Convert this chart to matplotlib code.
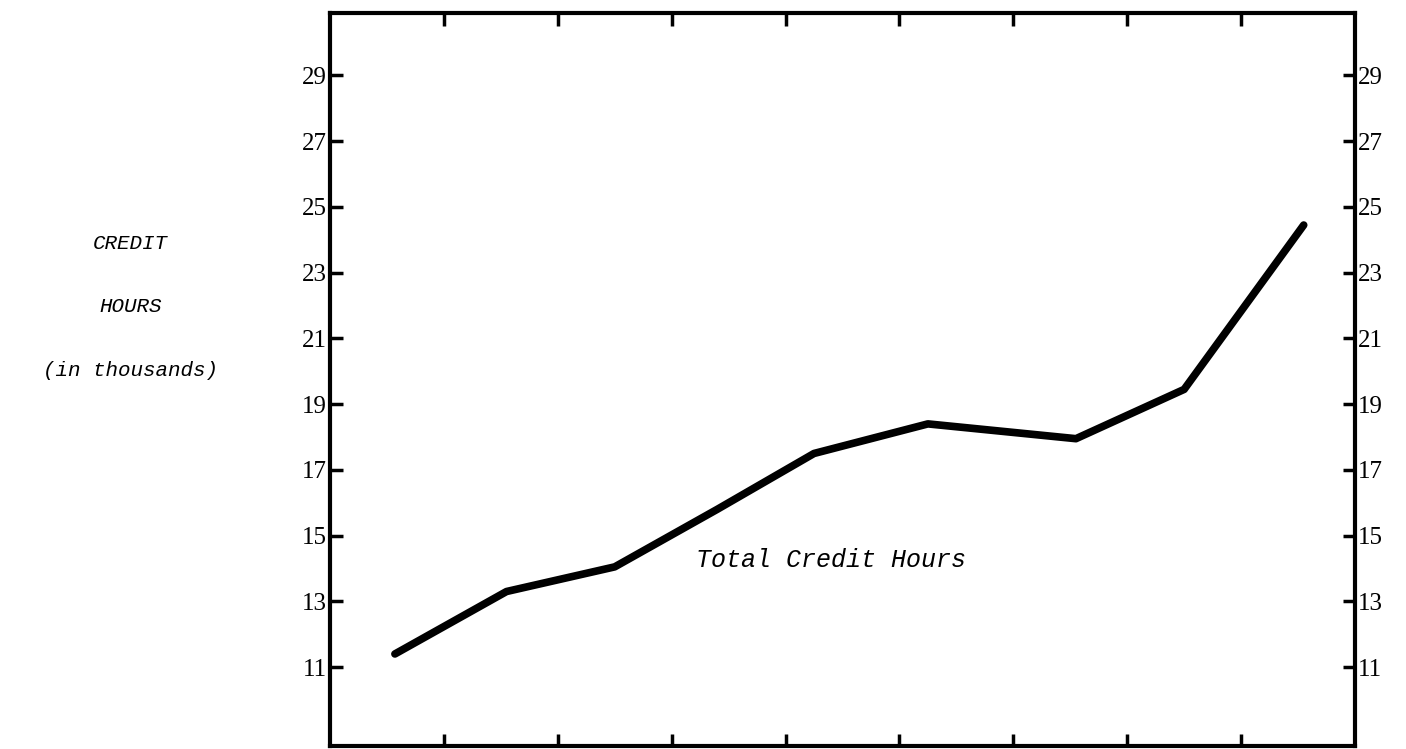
import matplotlib.pyplot as plt
from matplotlib.ticker import NullFormatter

# period positions (tick units) and total credit hours (thousands)
periods = [0.57, 1.55, 2.5, 3.4, 4.25, 5.25, 6.55, 7.5, 8.55]
credit_hours = [11.4, 13.3, 14.05, 15.8, 17.5, 18.4, 17.95, 19.45, 24.45]

y_ticks = [11, 13, 15, 17, 19, 21, 23, 25, 27, 29]
x_ticks = [1, 2, 3, 4, 5, 6, 7, 8]

mono = 'Liberation Mono'
serif = 'Liberation Serif'

fig = plt.figure(figsize=(14.06, 7.49), dpi=100)
ax = fig.add_axes([0.2347, 0.004, 0.729, 0.9786])

ax.plot(periods, credit_hours, color='black', lw=5.5, solid_capstyle='round',
        solid_joinstyle='round')

ax.set_xlim(0, 9)
ax.set_ylim(8.6, 30.9)
ax.set_xticks(x_ticks)
ax.set_yticks(y_ticks)
ax.xaxis.set_major_formatter(NullFormatter())
ax.tick_params(axis='x', direction='in', top=True, bottom=True, length=9, width=2.5)
ax.tick_params(axis='y', direction='in', left=True, right=True, labelleft=True,
               labelright=True, length=9, width=2.5, pad=2, labelsize=18)
for lab in ax.get_yticklabels():
    lab.set_family(serif)
for sp in ax.spines.values():
    sp.set_linewidth(3)

ax.text(4.4, 14.26, 'Total Credit Hours', family=mono, style='italic',
        fontsize=18, ha='center', va='center')

fig.text(0.093, 0.675, 'CREDIT', family=mono, style='italic', fontsize=15,
         ha='center', va='center')
fig.text(0.093, 0.591, 'HOURS', family=mono, style='italic', fontsize=15,
         ha='center', va='center')
fig.text(0.093, 0.506, '(in thousands)', family=mono, style='italic', fontsize=15,
         ha='center', va='center')

fig.savefig('out.png', dpi=100)
